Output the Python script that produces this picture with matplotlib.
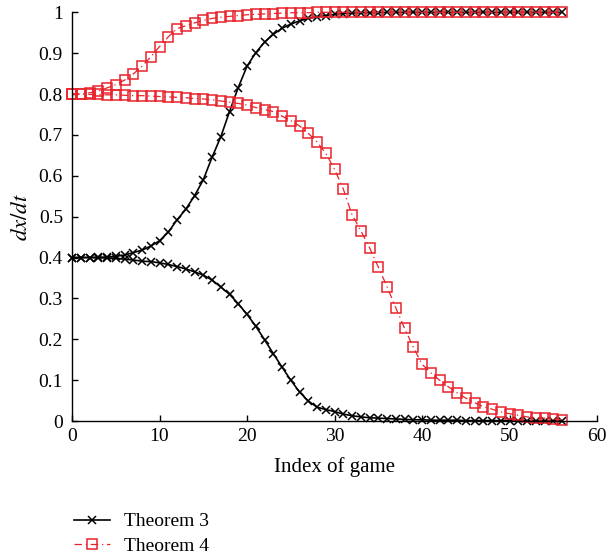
import matplotlib
matplotlib.use("Agg")
import matplotlib.pyplot as plt
import numpy as np

game_index = list(range(57))

t3_rising = [0.400, 0.400, 0.400, 0.401, 0.401, 0.403, 0.406, 0.412, 0.418, 0.428,
             0.441, 0.462, 0.492, 0.518, 0.551, 0.590, 0.645, 0.695, 0.757, 0.816,
             0.868, 0.901, 0.927, 0.946, 0.961, 0.971, 0.979, 0.985, 0.989, 0.992,
             0.995, 0.997, 0.998, 0.999, 0.999, 0.999, 1.0, 1.0, 1.0, 1.0,
             1.0, 1.0, 1.0, 1.0, 1.0, 1.0, 1.0, 1.0, 1.0, 1.0,
             1.0, 1.0, 1.0, 1.0, 1.0, 1.0, 1.0]

t3_falling = [0.400, 0.400, 0.400, 0.399, 0.399, 0.398, 0.396, 0.394, 0.391, 0.390,
              0.387, 0.383, 0.378, 0.372, 0.365, 0.357, 0.345, 0.328, 0.310, 0.287,
              0.261, 0.232, 0.199, 0.165, 0.132, 0.100, 0.071, 0.049, 0.034, 0.028,
              0.023, 0.017, 0.013, 0.010, 0.008, 0.007, 0.006, 0.005, 0.004, 0.003,
              0.003, 0.002, 0.002, 0.002, 0.002, 0.001, 0.001, 0.001, 0.001, 0.001,
              0.001, 0.001, 0.0005, 0.0005, 0.0005, 0.0005, 0.0005]

t4_rising = [0.800, 0.800, 0.803, 0.807, 0.815, 0.823, 0.834, 0.849, 0.868, 0.891,
             0.916, 0.940, 0.960, 0.967, 0.974, 0.980, 0.985, 0.988, 0.990, 0.992,
             0.994, 0.995, 0.996, 0.997, 0.998, 0.999, 0.999, 0.999, 1.0, 1.0,
             1.0, 1.0, 1.0, 1.0, 1.0, 1.0, 1.0, 1.0, 1.0, 1.0,
             1.0, 1.0, 1.0, 1.0, 1.0, 1.0, 1.0, 1.0, 1.0, 1.0,
             1.0, 1.0, 1.0, 1.0, 1.0, 1.0, 1.0]

t4_falling = [0.800, 0.800, 0.799, 0.799, 0.798, 0.798, 0.797, 0.796, 0.796, 0.795,
              0.794, 0.793, 0.792, 0.791, 0.789, 0.788, 0.786, 0.783, 0.780, 0.777,
              0.773, 0.767, 0.762, 0.757, 0.746, 0.735, 0.722, 0.704, 0.683, 0.655,
              0.616, 0.568, 0.505, 0.466, 0.424, 0.377, 0.329, 0.277, 0.227, 0.181,
              0.139, 0.118, 0.100, 0.084, 0.069, 0.056, 0.045, 0.035, 0.029, 0.022,
              0.018, 0.014, 0.010, 0.008, 0.007, 0.005, 0.003]

x_ticks = [0, 10, 20, 30, 40, 50, 60]
y_ticks = [0, 0.1, 0.2, 0.3, 0.4, 0.5, 0.6, 0.7, 0.8, 0.9, 1]
y_tick_labels = ["0", "0.1", "0.2", "0.3", "0.4", "0.5", "0.6", "0.7", "0.8", "0.9", "1"]

plt.rcParams['font.family'] = ['Liberation Serif', 'DejaVu Serif']
plt.rcParams['mathtext.fontset'] = 'stix'

fig = plt.figure(figsize=(6.09, 5.59), dpi=100)
ax = fig.add_axes([72/609, (559-421)/559, (597-72)/609, (421-12.3)/559])

red = '#e8232b'
black_kw = dict(color='black', lw=1.2, marker='x', ms=5.5, mew=1.1)
red_kw = dict(color=red, lw=0.9, ls=(0, (6, 3, 1, 3)), marker='s', ms=7, mfc='none', mec=red, mew=1.1)

l3, = ax.plot(game_index, t3_rising, label='Theorem 3', **black_kw)
ax.plot(game_index, t3_falling, **black_kw)
l4, = ax.plot(game_index, t4_rising, label='Theorem 4', **red_kw)
ax.plot(game_index, t4_falling, **red_kw)

ax.set_xlim(0, 60)
ax.set_ylim(0, 1)
ax.set_xticks(x_ticks)
ax.set_yticks(y_ticks)
ax.set_yticklabels(y_tick_labels)
ax.spines['top'].set_visible(False)
ax.spines['right'].set_visible(False)
ax.spines['left'].set_linewidth(1.0)
ax.spines['bottom'].set_linewidth(1.0)
ax.tick_params(direction='in', length=4, width=1.0, labelsize=14)
ax.tick_params(axis='y', pad=6.5)
ax.tick_params(axis='x', pad=5)
ax.set_xlabel('Index of game', fontsize=15, labelpad=9)
ax.set_ylabel(r'$dx/dt$', fontsize=16.5, labelpad=5)
for ln in ax.lines:
    ln.set_clip_on(False)

fig.legend(handles=[l3, l4], loc='upper left', bbox_to_anchor=(66/609, 1 - 505/559),
           frameon=False, fontsize=14, handlelength=1.85, handletextpad=0.75,
           labelspacing=0.35, borderaxespad=0)

fig.savefig('out.png', dpi=100)
